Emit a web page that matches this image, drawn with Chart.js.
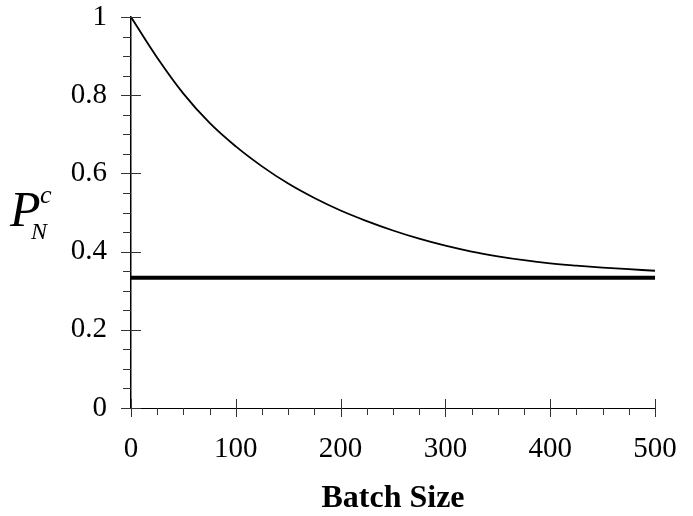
<!DOCTYPE html>
<html>
<head>
<meta charset="utf-8">
<script src="https://cdn.jsdelivr.net/npm/chart.js@4.4.0/dist/chart.umd.min.js"></script>
<style>
  html, body { margin: 0; padding: 0; background: #fff; }
  #wrap { width: 693px; height: 516px; }
</style>
</head>
<body>
<div id="wrap"><canvas id="chart" width="693" height="516"></canvas></div>
<script>
// values
const batchSizes = [0, 25, 50, 75, 100, 125, 150, 175, 200, 225, 250, 275, 300, 325, 350, 375, 400, 425, 450, 475, 500];
const probCurve = [1.0, 0.896, 0.804, 0.729, 0.669, 0.618, 0.574, 0.537, 0.505, 0.478, 0.454, 0.433, 0.415, 0.400, 0.388, 0.378, 0.370, 0.364, 0.359, 0.355, 0.351];
const limitX = [0, 500];
const limitY = [0.333, 0.333];

const SERIF = '"Liberation Serif", "Times New Roman", serif';

// minor/major tick marks + axis titles
const axisDecor = {
    id: 'axisDecor',
    afterDraw(chart) {
        const ctx = chart.ctx;
        const xs = chart.scales.x, ys = chart.scales.y;
        const x0 = xs.getPixelForValue(0), y0 = ys.getPixelForValue(0);

        ctx.save();
        ctx.strokeStyle = '#333';
        ctx.lineWidth = 1;
        ctx.beginPath();
        // y ticks
        for (let v = 0; v <= 1.0001; v += 0.05) {
            const py = Math.round(ys.getPixelForValue(v)) + 0.5;
            const major = Math.abs(v * 5 - Math.round(v * 5)) < 1e-6;
            ctx.moveTo(x0 - (major ? 10 : 8), py);
            ctx.lineTo(x0 + (major ? 10 : 0), py);
        }
        // x ticks
        for (let v = 0; v <= 500; v += 25) {
            const px = Math.round(xs.getPixelForValue(v)) + 0.5;
            const major = v % 100 === 0;
            ctx.moveTo(px, y0 + (major ? 9 : 7));
            ctx.lineTo(px, y0 - (major ? 9 : 0));
        }
        ctx.stroke();

        // x title
        ctx.fillStyle = '#000';
        ctx.font = 'bold 32px ' + SERIF;
        ctx.textAlign = 'center';
        ctx.textBaseline = 'alphabetic';
        ctx.fillText('Batch Size', (xs.left + xs.right) / 2, 507);

        // y title  P_N^c
        ctx.textAlign = 'left';
        ctx.font = 'italic 50px ' + SERIF;
        ctx.fillText('P', 10, 226);
        ctx.font = 'italic 26px ' + SERIF;
        ctx.fillText('c', 40, 203);
        ctx.font = 'italic 24px ' + SERIF;
        ctx.fillText('N', 31, 239);
        ctx.restore();
    }
};

const curveData = batchSizes.map((b, i) => ({ x: b, y: probCurve[i] }));
const limitData = limitX.map((b, i) => ({ x: b, y: limitY[i] }));

new Chart(document.getElementById('chart').getContext('2d'), {
    type: 'line',
    data: {
        datasets: [
            {
                data: curveData,
                borderColor: '#000',
                borderWidth: 1.8,
                pointRadius: 0,
                tension: 0.4,
                fill: false
            },
            {
                data: limitData,
                borderColor: '#000',
                borderWidth: 4,
                pointRadius: 0,
                fill: false
            }
        ]
    },
    options: {
        responsive: false,
        animation: false,
        layout: { padding: { top: 17, right: 38, left: 0, bottom: 0 } },
        plugins: {
            legend: { display: false },
            tooltip: { enabled: false }
        },
        scales: {
            x: {
                type: 'linear',
                min: 0,
                max: 500,
                afterFit(scale) {
                    scale.height = 108;
                    scale.paddingLeft = 0;
                    scale.paddingRight = 0;
                },
                border: { display: true, color: '#000', width: 1 },
                grid: { display: false, drawTicks: false },
                ticks: {
                    stepSize: 100,
                    padding: 24,
                    color: '#000',
                    font: { family: SERIF, size: 29 }
                }
            },
            y: {
                type: 'linear',
                min: 0,
                max: 1,
                afterFit(scale) {
                    scale.width = 131;
                    scale.paddingTop = 0;
                    scale.paddingBottom = 0;
                },
                border: { display: true, color: '#000', width: 1.5 },
                grid: { display: false, drawTicks: false },
                ticks: {
                    stepSize: 0.2,
                    padding: 24,
                    color: '#000',
                    font: { family: SERIF, size: 29 },
                    callback: v => String(Number(v.toFixed(1)))
                }
            }
        }
    },
    plugins: [axisDecor]
});
</script>
</body>
</html>
